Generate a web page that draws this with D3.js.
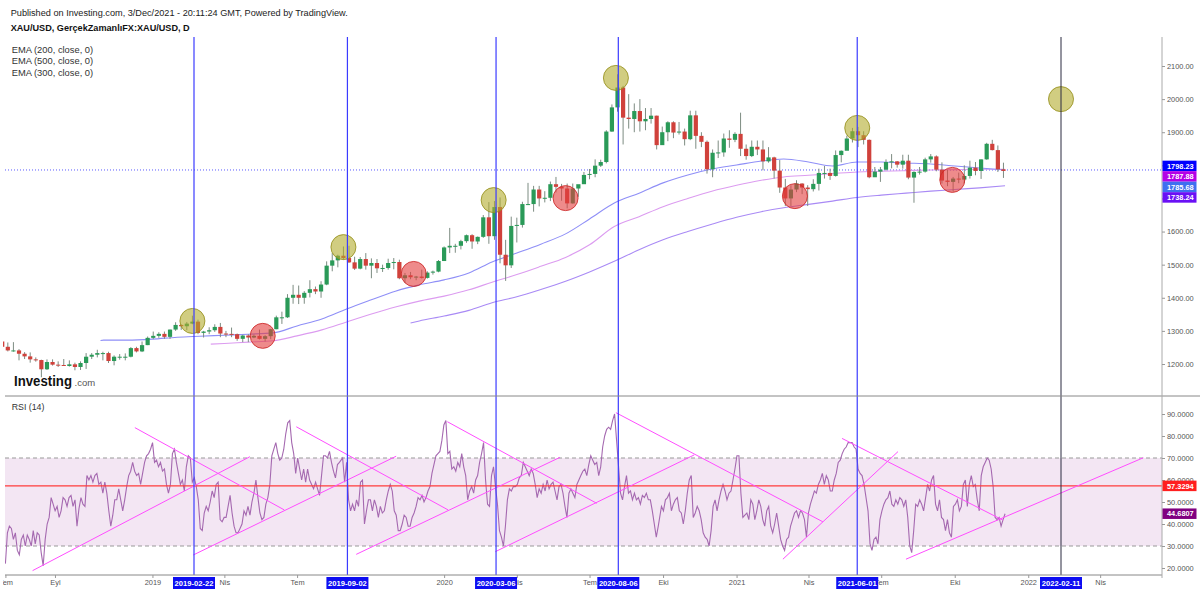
<!DOCTYPE html>
<html>
<head>
<meta charset="utf-8">
<title>XAU/USD</title>
<script src="https://cdn.jsdelivr.net/npm/d3@7/dist/d3.min.js"></script>
<style>
  body { margin: 0; background: #fff; }
  svg { display: block; font-family: "Liberation Sans", Arial, sans-serif; }
</style>
</head>
<body>
<div id="chart"></div>
<script>
// ---- values ----
// weekly candles [open, high, low, close], one per week starting at firstWeek
const firstWeek = "2018-06-25";
const candles = [
  // 2018
  [1268,1271,1245,1252],[1252,1265,1238,1241],[1241,1266,1237,1241],[1241,1245,1211,1231],
  [1231,1236,1215,1223],[1223,1235,1204,1214],[1214,1220,1207,1212],[1212,1213,1160,1184],
  [1184,1214,1182,1206],[1206,1214,1195,1198],[1198,1208,1191,1197],[1197,1215,1194,1194],
  [1194,1211,1192,1199],[1199,1204,1181,1191],[1191,1208,1182,1203],[1203,1233,1185,1222],
  [1222,1233,1215,1228],[1228,1243,1220,1233],[1233,1237,1211,1233],[1233,1237,1203,1209],
  [1209,1226,1196,1222],[1222,1230,1213,1222],[1222,1232,1211,1222],[1222,1251,1220,1248],
  [1248,1252,1235,1238],[1238,1268,1236,1257],[1257,1283,1257,1279],[1279,1298,1275,1285],
  // 2019
  [1285,1296,1279,1291],[1291,1298,1276,1282],[1282,1304,1276,1304],[1304,1326,1300,1318],
  [1318,1320,1303,1314],[1314,1327,1302,1322],[1322,1346,1320,1328],[1328,1334,1290,1294],
  [1294,1300,1280,1298],[1298,1311,1290,1302],[1302,1320,1297,1312],[1312,1324,1281,1292],
  [1292,1300,1281,1291],[1291,1310,1281,1290],[1290,1292,1270,1276],[1276,1288,1266,1286],
  [1286,1290,1266,1280],[1280,1289,1278,1285],[1285,1304,1274,1276],[1276,1287,1268,1284],
  [1284,1306,1275,1305],[1305,1346,1305,1341],[1341,1358,1321,1341],[1341,1411,1339,1400],
  [1400,1439,1382,1409],[1409,1437,1381,1400],[1400,1420,1382,1415],[1415,1453,1401,1426],
  [1426,1434,1411,1419],[1419,1450,1400,1440],[1440,1510,1438,1497],[1497,1535,1480,1513],
  [1513,1530,1492,1527],[1527,1555,1515,1520],[1520,1557,1505,1507],[1507,1524,1484,1488],
  [1488,1523,1486,1517],[1517,1535,1485,1497],[1497,1519,1459,1505],[1505,1517,1475,1489],
  [1489,1500,1478,1490],[1490,1518,1485,1505],[1505,1520,1486,1508],[1508,1515,1456,1459],
  [1459,1475,1445,1468],[1468,1478,1456,1462],[1462,1466,1453,1464],[1464,1485,1458,1460],
  [1460,1480,1458,1476],[1476,1482,1470,1479],[1479,1514,1477,1511],[1511,1555,1511,1552],
  // 2020
  [1552,1611,1535,1557],[1557,1563,1536,1557],[1557,1575,1546,1571],[1571,1591,1566,1589],
  [1589,1592,1548,1570],[1570,1585,1562,1584],[1584,1650,1581,1643],[1643,1689,1563,1586],
  [1586,1692,1575,1674],[1674,1703,1504,1530],[1530,1575,1451,1498],[1498,1645,1490,1617],
  [1617,1642,1567,1620],[1620,1690,1612,1683],[1683,1747,1680,1683],[1683,1738,1660,1727],
  [1727,1738,1676,1700],[1700,1722,1688,1702],[1702,1751,1692,1743],[1743,1765,1718,1735],
  [1735,1744,1693,1730],[1730,1745,1670,1685],[1685,1745,1684,1730],[1730,1737,1705,1743],
  [1743,1780,1744,1771],[1771,1789,1758,1774],[1774,1818,1764,1799],[1799,1817,1795,1810],
  [1810,1906,1806,1902],[1902,1984,1901,1975],[1975,2075,1962,2035],[2035,2040,1863,1944],
  [1944,2015,1911,1940],[1940,1987,1900,1964],[1964,2000,1902,1933],[1933,1973,1906,1940],
  [1940,1973,1926,1950],[1950,1950,1848,1861],[1861,1917,1874,1900],[1900,1933,1873,1930],
  [1930,1933,1882,1899],[1899,1931,1893,1902],[1902,1911,1860,1879],[1879,1965,1876,1951],
  [1951,1965,1850,1889],[1889,1900,1855,1871],[1871,1875,1775,1788],[1788,1848,1764,1838],
  [1838,1875,1822,1839],[1839,1896,1826,1881],[1881,1906,1853,1877],[1877,1900,1870,1895],
  // 2021
  [1895,1959,1828,1850],[1850,1863,1817,1828],[1828,1875,1825,1856],[1856,1875,1831,1848],
  [1848,1875,1785,1812],[1812,1855,1808,1824],[1824,1826,1760,1784],[1784,1816,1717,1733],
  [1733,1759,1677,1700],[1700,1740,1677,1727],[1727,1755,1719,1745],[1745,1746,1713,1733],
  [1733,1740,1677,1728],[1728,1758,1721,1744],[1744,1790,1724,1777],[1777,1798,1760,1777],
  [1777,1790,1756,1768],[1768,1845,1766,1831],[1831,1845,1809,1844],[1844,1890,1852,1881],
  [1881,1913,1869,1903],[1903,1916,1855,1891],[1891,1903,1863,1877],[1877,1878,1761,1764],
  [1764,1795,1766,1781],[1781,1795,1750,1787],[1787,1818,1784,1810],[1810,1834,1791,1812],
  [1812,1813,1793,1802],[1802,1832,1790,1814],[1814,1832,1758,1763],[1763,1782,1687,1780],
  [1780,1795,1772,1781],[1781,1823,1778,1818],[1818,1834,1808,1827],[1827,1830,1782,1787],
  [1787,1809,1745,1754],[1754,1787,1737,1750],[1750,1765,1721,1760],[1760,1778,1746,1757],
  [1757,1800,1746,1768],[1768,1814,1760,1793],[1793,1810,1770,1783],[1783,1818,1759,1818],
  [1818,1868,1817,1865],[1865,1877,1845,1846],[1846,1860,1780,1788],[1788,1808,1762,1783]
];

// moving averages, [date, value]
const ema200 = [["2018-10-28",1271],["2018-11",1272],["2018-12",1272],["2019-01",1275],["2019-02",1281],
  ["2019-03",1284],["2019-04",1287],["2019-05",1290],["2019-06",1294],["2019-07",1315],["2019-08",1336],
  ["2019-09",1366],["2019-10",1393],["2019-11",1420],["2019-12",1439],["2020-01",1454],["2020-02",1475],
  ["2020-03",1508],["2020-04",1535],["2020-05",1562],["2020-06",1593],["2020-07",1638],["2020-08",1686],
  ["2020-09",1716],["2020-10",1747],["2020-11",1771],["2020-12",1789],["2021-01",1801],["2021-02",1813],
  ["2021-03",1819],["2021-04",1810],["2021-05",1798],["2021-06",1810],["2021-07",1810],["2021-08",1807],
  ["2021-09",1804],["2021-10",1798],["2021-11",1792],["2021-12-03",1785.68]];
const ema300 = [["2019-03-15",1260],["2019-04",1262],["2019-05",1266],["2019-06",1270],["2019-07",1285],
  ["2019-08",1303],["2019-09",1327],["2019-10",1350],["2019-11",1372],["2019-12",1390],["2020-01",1405],
  ["2020-02",1424],["2020-03",1447],["2020-04",1470],["2020-05",1495],["2020-06",1522],["2020-07",1560],
  ["2020-08",1615],["2020-09",1645],["2020-10",1675],["2020-11",1700],["2020-12",1722],["2021-01",1740],
  ["2021-02",1755],["2021-03",1765],["2021-04",1770],["2021-05",1775],["2021-06",1780],["2021-07",1782],
  ["2021-08",1784],["2021-09",1786],["2021-10",1787],["2021-11",1788],["2021-12-03",1787.88]];
const ema500 = [["2019-11-20",1324],["2019-12",1330],["2020-01",1345],["2020-02",1362],["2020-03",1385],
  ["2020-04",1403],["2020-05",1425],["2020-06",1450],["2020-07",1478],["2020-08",1510],["2020-09",1545],
  ["2020-10",1575],["2020-11",1600],["2020-12",1622],["2021-01",1643],["2021-02",1660],["2021-03",1672],
  ["2021-04",1682],["2021-05",1692],["2021-06",1703],["2021-07",1710],["2021-08",1716],["2021-09",1722],
  ["2021-10",1727],["2021-11",1732],["2021-12-03",1738.24]];

// RSI(14), evenly spaced readings inside each span
const rsiSpans = [["2018-07-01","2019-08-23"],["2019-08-27","2020-09-25"],["2020-09-29","2021-12-03"]];
const rsiA = [22,36,39,38,33,36,28,26,33,35,30,35,33,30,37,31,36,35,27,21,33,40,43,52,49,46,48,43,46,52,
  51,48,52,53,48,51,39,47,52,49,48,62,60,62,59,62,63,58,59,54,59,54,46,39,44,51,51,56,51,46,51,57,62,64,68,
  64,62,63,58,63,68,71,72,74,77,68,69,66,68,64,65,58,54,58,72,74,68,63,58,60,55,66,71,70,59,61,57,51,38,37,
  45,48,46,50,55,52,58,59,42,41,43,43,48,53,45,39,36,36,38,40,46,44,48,44,50,54,60,52,45,42,43,49,52,58,71,
  74,77,72,69,70,74,81,86,87,77,72,63,70,65,60,65,59,65,60,58,56,59,56,53,62,71,71,70,73,68,64,61,67,68];
const rsiB = [70,59,68,51,46,49,46,51,48,59,60,40,46,51,51,46,51,48,43,48,45,46,51,55,58,55,46,44,37,37,
  40,44,43,39,39,43,45,48,52,51,53,50,52,55,57,63,67,71,72,73,78,85,87,72,73,65,66,64,68,66,72,66,62,51,55,
  57,54,60,62,68,72,77,60,49,48,62,66,57,49,37,34,30,39,51,56,55,57,57,58,61,62,68,66,64,62,65,63,58,52,56,
  54,58,55,60,56,58,59,55,51,57,58,54,48,43,54,56,54,52,58,60,62,64,65,62,67,71,69,67,68,62,66,75,80,83,84,
  83,87,90,78,66,54,51,57,62,54,55,51,54,51,52,49,53,52,54,51,51,46,40,34,39];
const rsiC = [48,46,51,52,54,46,49,51,52,46,45,40,46,54,60,62,43,45,48,46,42,36,34,33,30,37,48,51,46,51,
  55,58,55,51,54,55,60,65,71,71,54,43,44,45,42,51,49,42,46,51,48,42,39,46,48,39,36,40,45,39,33,30,28,33,34,
  39,42,45,46,43,46,45,42,34,45,49,52,55,54,58,60,63,58,62,60,55,55,60,63,68,69,72,74,75,77,77,77,75,74,65,
  63,62,58,52,46,31,28,33,34,31,42,46,49,51,52,55,49,48,51,49,52,51,48,51,43,30,27,37,49,48,51,49,46,52,58,
  55,60,62,49,46,51,43,42,37,42,36,34,48,49,51,46,48,58,60,48,58,62,57,58,51,46,62,66,68,70,69,65,57,43,42,
  43,39,42,44.68];

// trend lines drawn on the RSI pane, [[date, rsi], [date, rsi]]
const rsiTrendlines = [
  [["2018-08-04",18.8],["2019-05-03",70.6]],
  [["2018-12-10",83.8],["2019-06-15",46.4]],
  [["2019-02-21",25.9],["2019-11-02",70.8]],
  [["2019-06-30",84.2],["2020-01-06",46.4]],
  [["2019-09-13",26.2],["2020-05-25",70.3]],
  [["2020-01-05",86.5],["2020-07-10",49.4]],
  [["2020-03-05",27.4],["2020-11-09",71.4]],
  [["2020-08-03",90.6],["2021-04-19",41.0]],
  [["2021-02-28",24.0],["2021-07-22",72.9]],
  [["2021-05-13",78.9],["2021-11-30",41.8]],
  [["2021-08-01",24.0],["2022-05-25",70.1]]
];
const rsiLevel = 57.3294;
const rsiLast = 44.6807;

// highlighted tops and bottoms, [date, price]
const topCircles = [["2019-02-20",1330],["2019-08-28",1553],["2020-03-03",1695],["2020-08-03",2064],
  ["2021-06-01",1913],["2022-02-11",2000]];
const bottomCircles = [["2019-05-19",1285],["2019-11-24",1472],["2020-06-01",1701],["2021-03-15",1707],
  ["2021-09-28",1756]];

const markDates = ["2019-02-22","2019-09-02","2020-03-06","2020-08-06","2021-06-01"];
const futureDate = "2022-02-11";
const priceLine = 1786;
const priceTags = [1798.23, 1787.88, 1785.68, 1738.24];

const priceTicks = [1200,1300,1400,1500,1600,1700,1800,1900,2000,2100];
const rsiTicks = [20,30,40,50,60,70,80,90];
const timeTicks = [["2018-07-01","Tem"],["2018-09-01","Eyl"],["2019-01-01","2019"],["2019-04-01","Nis"],
  ["2019-07-01","Tem"],["2020-01-01","2020"],["2020-04-01","Nis"],["2020-07-01","Tem"],["2020-10-01","Eki"],
  ["2021-01-01","2021"],["2021-04-01","Nis"],["2021-07-01","Tem"],["2021-10-01","Eki"],["2022-01-01","2022"],
  ["2022-04-01","Nis"]];
const legend = ["EMA (200, close, 0)", "EMA (500, close, 0)", "EMA (300, close, 0)"];

// ---- drawing ----
const width = 1200, height = 591;
const plotLeft = 5, plotRight = 1162, plotTop = 37, paneSplit = 396, plotBottom = 575;
const FONT = "'Liberation Sans', Arial, sans-serif";
const DAY = 864e5;

const parseDay = d3.utcParse("%Y-%m-%d"), parseMonth = d3.utcParse("%Y-%m");
const pd = s => s.length === 7 ? parseMonth(s) : parseDay(s);

const x = d3.scaleUtc().domain([pd("2019-02-22"), pd("2022-02-11")]).range([194, 1061]);
const y = d3.scaleLinear().domain([1200, 2100]).range([364, 66]);
const yR = d3.scaleLinear().domain([20, 90]).range([568, 414]);

const svg = d3.select("#chart").append("svg")
  .attr("width", width).attr("height", height)
  .style("font-family", FONT);

const defs = svg.append("defs");
defs.append("clipPath").attr("id", "clipMain").append("rect")
  .attr("x", plotLeft - 2).attr("y", plotTop).attr("width", plotRight - plotLeft + 2).attr("height", paneSplit - plotTop);
defs.append("clipPath").attr("id", "clipRsi").append("rect")
  .attr("x", plotLeft).attr("y", paneSplit).attr("width", plotRight - plotLeft).attr("height", plotBottom - paneSplit);
defs.append("clipPath").attr("id", "clipAxis").append("rect")
  .attr("x", 3).attr("y", plotBottom).attr("width", plotRight - 3).attr("height", height - plotBottom);

// header
svg.append("text").attr("x", 10.7).attr("y", 15.5).attr("font-size", 9.6).attr("fill", "#222")
  .attr("textLength", 337).attr("lengthAdjust", "spacingAndGlyphs")
  .text("Published on Investing.com, 3/Dec/2021 - 20:11:24 GMT, Powered by TradingView.");
svg.append("text").attr("x", 10.7).attr("y", 30.5).attr("font-size", 9.3).attr("font-weight", "bold").attr("fill", "#111")
  .attr("textLength", 179).attr("lengthAdjust", "spacingAndGlyphs")
  .text("XAU/USD, GerçekZamanlıFX:XAU/USD, D");
svg.append("g").selectAll("text").data(legend).join("text")
  .attr("x", 11.7).attr("y", (d, i) => 53 + i * 11.3)
  .attr("font-size", 9.3).attr("fill", "#333")
  .attr("textLength", 81.5).attr("lengthAdjust", "spacingAndGlyphs").text(d => d);

// main pane
const gMain = svg.append("g").attr("clip-path", "url(#clipMain)");

gMain.append("line")
  .attr("x1", plotLeft).attr("x2", plotRight).attr("y1", y(priceLine)).attr("y2", y(priceLine))
  .attr("stroke", "#5a5aff").attr("stroke-width", 1).attr("stroke-dasharray", "1,2");

const emaLine = d3.line().curve(d3.curveMonotoneX).x(d => x(pd(d[0]))).y(d => y(d[1]));
[[ema500, "#a98af5"], [ema300, "#dc9cf0"], [ema200, "#8f8ff7"]].forEach(([data, color]) => {
  gMain.append("path").attr("d", emaLine(data)).attr("fill", "none")
    .attr("stroke", color).attr("stroke-width", 1.1);
});

const t0 = pd(firstWeek);
const bars = candles.map(([o, h, l, c], i) => ({ date: new Date(+t0 + (i * 7 + 2) * DAY), o, h, l, c }));
gMain.selectAll("line.wick").data(bars).join("line").attr("class", "wick")
  .attr("x1", d => x(d.date)).attr("x2", d => x(d.date))
  .attr("y1", d => y(d.h)).attr("y2", d => y(d.l))
  .attr("stroke", "#7d8c82").attr("stroke-width", 1);
gMain.selectAll("rect.body").data(bars).join("rect").attr("class", "body")
  .attr("x", d => x(d.date) - 2.1).attr("width", 4.2)
  .attr("y", d => y(Math.max(d.o, d.c)))
  .attr("height", d => Math.max(1, Math.abs(y(d.o) - y(d.c))))
  .attr("fill", d => d.c >= d.o ? "#2a9a58" : "#d0413b");

gMain.selectAll("circle.top").data(topCircles).join("circle").attr("class", "top")
  .attr("cx", d => x(pd(d[0]))).attr("cy", d => y(d[1])).attr("r", 12.5)
  .attr("fill", "rgba(178,172,45,0.6)").attr("stroke", "rgba(150,145,30,0.85)").attr("stroke-width", 1);
gMain.selectAll("circle.bottom").data(bottomCircles).join("circle").attr("class", "bottom")
  .attr("cx", d => x(pd(d[0]))).attr("cy", d => y(d[1])).attr("r", 12.5)
  .attr("fill", "rgba(226,62,62,0.6)").attr("stroke", "rgba(205,40,40,0.85)").attr("stroke-width", 1);

// Investing.com mark
svg.append("text").attr("x", 14).attr("y", 386)
  .attr("font-size", 14.5).attr("font-weight", "bold").attr("fill", "#111")
  .attr("textLength", 58).attr("lengthAdjust", "spacingAndGlyphs").text("Investing");
svg.append("text").attr("x", 74.5).attr("y", 386)
  .attr("font-size", 9.5).attr("fill", "#555").text(".com");

// RSI pane
const gRsi = svg.append("g").attr("clip-path", "url(#clipRsi)");
gRsi.append("rect").attr("x", plotLeft).attr("width", plotRight - plotLeft)
  .attr("y", yR(70)).attr("height", yR(30) - yR(70)).attr("fill", "#f3e6f3");
[70, 30].forEach(v => gRsi.append("line")
  .attr("x1", plotLeft).attr("x2", plotRight).attr("y1", yR(v)).attr("y2", yR(v))
  .attr("stroke", "#999").attr("stroke-dasharray", "4,3").attr("stroke-width", 1));

const rsiPoints = [];
[rsiA, rsiB, rsiC].forEach((vals, k) => {
  const a = +pd(rsiSpans[k][0]), b = +pd(rsiSpans[k][1]);
  vals.forEach((v, i) => rsiPoints.push([new Date(a + (b - a) * i / (vals.length - 1)), v]));
});
gRsi.append("path")
  .attr("d", d3.line().x(d => x(d[0])).y(d => yR(d[1]))(rsiPoints))
  .attr("fill", "none").attr("stroke", "#a569b0").attr("stroke-width", 1.1);

gRsi.append("line")
  .attr("x1", plotLeft).attr("x2", plotRight).attr("y1", yR(rsiLevel)).attr("y2", yR(rsiLevel))
  .attr("stroke", "#ff3b3b").attr("stroke-width", 1.2);

gRsi.selectAll("line.trend").data(rsiTrendlines).join("line").attr("class", "trend")
  .attr("x1", d => x(pd(d[0][0]))).attr("y1", d => yR(d[0][1]))
  .attr("x2", d => x(pd(d[1][0]))).attr("y2", d => yR(d[1][1]))
  .attr("stroke", "#ff4dff").attr("stroke-width", 1);

svg.append("text").attr("x", 11.7).attr("y", 410).attr("font-size", 8.8).attr("fill", "#333").text("RSI (14)");

// vertical date markers
svg.selectAll("line.mark").data(markDates).join("line").attr("class", "mark")
  .attr("x1", d => x(pd(d))).attr("x2", d => x(pd(d))).attr("y1", plotTop).attr("y2", plotBottom)
  .attr("stroke", "#3b3bff").attr("stroke-width", 1.2);
svg.append("line")
  .attr("x1", x(pd(futureDate))).attr("x2", x(pd(futureDate))).attr("y1", plotTop).attr("y2", plotBottom)
  .attr("stroke", "#2a2a40").attr("stroke-width", 1);

// pane separators and axis lines
svg.append("line").attr("x1", plotLeft).attr("x2", width).attr("y1", paneSplit).attr("y2", paneSplit)
  .attr("stroke", "#888").attr("stroke-width", 1);
svg.append("line").attr("x1", plotLeft).attr("x2", plotRight).attr("y1", plotBottom).attr("y2", plotBottom)
  .attr("stroke", "#888").attr("stroke-width", 1);
svg.append("line").attr("x1", plotRight).attr("x2", plotRight).attr("y1", plotTop).attr("y2", plotBottom + 3)
  .attr("stroke", "#aaa").attr("stroke-width", 1);

function styleAxis(g) {
  g.select(".domain").remove();
  g.attr("font-family", FONT).attr("font-size", 7.4);
  g.selectAll("line").attr("stroke", "#999");
  g.selectAll("text").attr("fill", "#555");
}

svg.append("g").attr("transform", `translate(${plotRight},0)`)
  .call(d3.axisRight(y).tickValues(priceTicks).tickFormat(d3.format(".2f")).tickSize(3).tickPadding(2))
  .call(styleAxis);
svg.append("g").attr("transform", `translate(${plotRight},0)`)
  .call(d3.axisRight(yR).tickValues(rsiTicks).tickFormat(d3.format(".4f")).tickSize(3).tickPadding(2))
  .call(styleAxis);
svg.append("g").attr("clip-path", "url(#clipAxis)")
  .append("g").attr("transform", `translate(0,${plotBottom})`)
  .call(d3.axisBottom(x).tickValues(timeTicks.map(d => pd(d[0])))
    .tickFormat((d, i) => timeTicks[i][1]).tickSize(3).tickPadding(2))
  .call(styleAxis);

// date tags on the time axis
const tagDates = markDates.concat([futureDate]);
const dateTags = svg.append("g").selectAll("g").data(tagDates).join("g")
  .attr("transform", d => `translate(${x(pd(d))},${plotBottom + 2})`);
dateTags.append("rect").attr("x", -21).attr("width", 42).attr("height", 12).attr("fill", "#0d0df2");
dateTags.append("text").attr("y", 8.8).attr("text-anchor", "middle").attr("font-size", 7.6)
  .attr("font-weight", "bold").attr("fill", "#fff").text(d => d);

// value tags on the price axis (stacked so they do not overlap)
const tagColors = ["#0000ff", "#b400e6", "#3f6ff0", "#6a10f5"];
const tagTop = y(priceTags[0]) - 5.25;
const pTags = svg.append("g").selectAll("g").data(priceTags).join("g")
  .attr("transform", (d, i) => `translate(${plotRight + 0.5},${tagTop + i * 10.5})`);
pTags.append("rect").attr("width", 34).attr("height", 10.5).attr("fill", (d, i) => tagColors[i]);
pTags.append("text").attr("x", 4.5).attr("y", 8).attr("font-size", 7.4).attr("font-weight", "bold")
  .attr("fill", "#fff").text(d => d.toFixed(2));

const rTags = svg.append("g").selectAll("g").data([[rsiLevel, "#ff1f1f"], [rsiLast, "#800080"]]).join("g")
  .attr("transform", d => `translate(${plotRight + 0.5},${yR(d[0]) - 5.25})`);
rTags.append("rect").attr("width", 34).attr("height", 10.5).attr("fill", d => d[1]);
rTags.append("text").attr("x", 4.5).attr("y", 8).attr("font-size", 7.4).attr("font-weight", "bold")
  .attr("fill", "#fff").text(d => d[0].toFixed(4));
</script>
</body>
</html>
